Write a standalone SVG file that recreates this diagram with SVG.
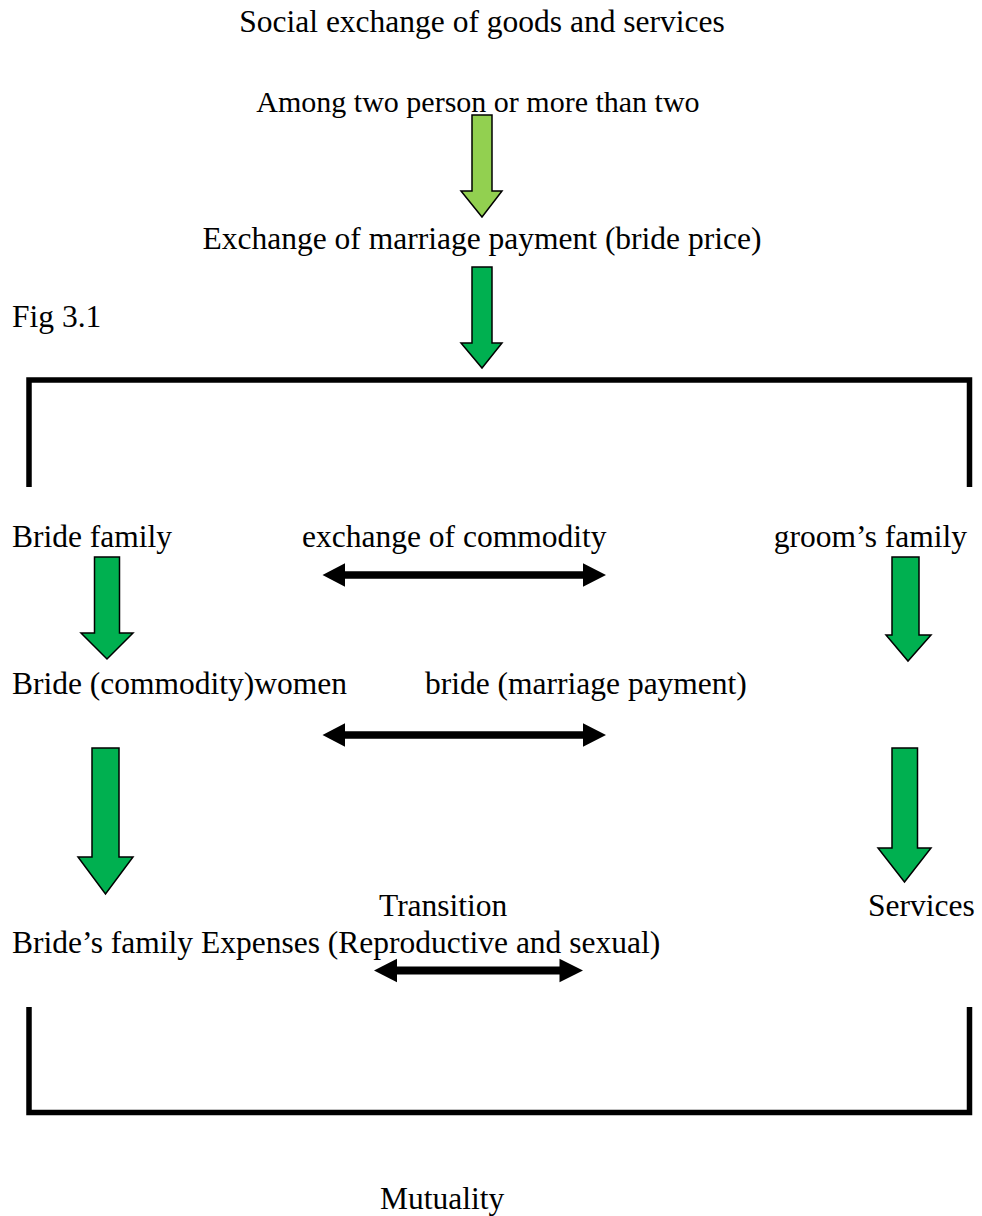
<svg xmlns="http://www.w3.org/2000/svg" width="982" height="1216" viewBox="0 0 982 1216" font-family="'Liberation Serif', 'Times New Roman', Times, serif" font-size="31.5">
  <style>
    text { font-family: 'Liberation Serif', 'Times New Roman', Times, serif; font-size: 31.5px; fill: #000; }
    .mid { text-anchor: middle; }
    .end { text-anchor: end; }
    .g1 { fill: #92D050; stroke: #000; stroke-width: 1.5; stroke-linejoin: miter; }
    .g2 { fill: #00B050; stroke: #000; stroke-width: 1.5; stroke-linejoin: miter; }
    .dbl { fill: #000; stroke: none; }
    .bracket { fill: none; stroke: #000; stroke-width: 5.5; stroke-linejoin: miter; stroke-linecap: butt; }
  </style>
  <rect width="982" height="1216" fill="#fff"/>

  <g id="node-social"><text class="mid" x="482" y="32">Social exchange of goods and services</text></g>
  <g id="node-among"><text class="mid" x="478" y="112" style="font-size:30px">Among two person or more than two</text></g>
  <g id="node-exchange-payment"><text class="mid" x="482" y="249">Exchange of marriage payment (bride price)</text></g>
  <g id="node-fig"><text x="12" y="327">Fig 3.1</text></g>
  <g id="node-bride-family"><text x="12" y="547">Bride family</text></g>
  <g id="node-exchange-commodity"><text x="302" y="547">exchange of commodity</text></g>
  <g id="node-groom-family"><text class="end" x="967" y="547">groom’s family</text></g>
  <g id="node-bride-commodity"><text x="12" y="694">Bride (commodity)women</text></g>
  <g id="node-bride-payment"><text x="425" y="694">bride (marriage payment)</text></g>
  <g id="node-transition"><text x="379" y="916">Transition</text></g>
  <g id="node-services"><text x="868" y="916">Services</text></g>
  <g id="node-expenses"><text x="12" y="953">Bride’s family Expenses (Reproductive and sexual)</text></g>
  <g id="node-mutuality"><text x="380" y="1209">Mutuality</text></g>

  <g id="connectors">
    <polygon class="g1" points="472,115 492,115 492,191 502,191 482,217 461,191 472,191"/>
    <polygon class="g2" points="472,267 492,267 492,343 502,343 482,368 461,343 472,343"/>
    <polygon class="g2" points="94.5,557 119.5,557 119.5,633 133,633 107,659 81,633 94.5,633"/>
    <polygon class="g2" points="892,557 919,557 919,635 931,635 908,661 886,635 892,635"/>
    <polygon class="g2" points="92,748 119,748 119,857 133,857 105.5,894 78,857 92,857"/>
    <polygon class="g2" points="892,748 917.5,748 917.5,848 931,848 904.5,882 878,848 892,848"/>

    <polygon class="dbl" points="322.5,575 345,563.3 345,571.3 583,571.3 583,563.3 606,575 583,586.7 583,578.7 345,578.7 345,586.7"/>
    <polygon class="dbl" points="322.5,735 345,723.3 345,731.3 583,731.3 583,723.3 606,735 583,746.7 583,738.7 345,738.7 345,746.7"/>
    <polygon class="dbl" points="374,970.5 397,958.8 397,966.5 559.5,966.5 559.5,958.8 583,970.5 559.5,982.2 559.5,974.5 397,974.5 397,982.2"/>

    <path class="bracket" d="M29,487 V380 H969.5 V487"/>
    <path class="bracket" d="M29,1007 V1112.5 H969.5 V1007"/>
  </g>
</svg>
